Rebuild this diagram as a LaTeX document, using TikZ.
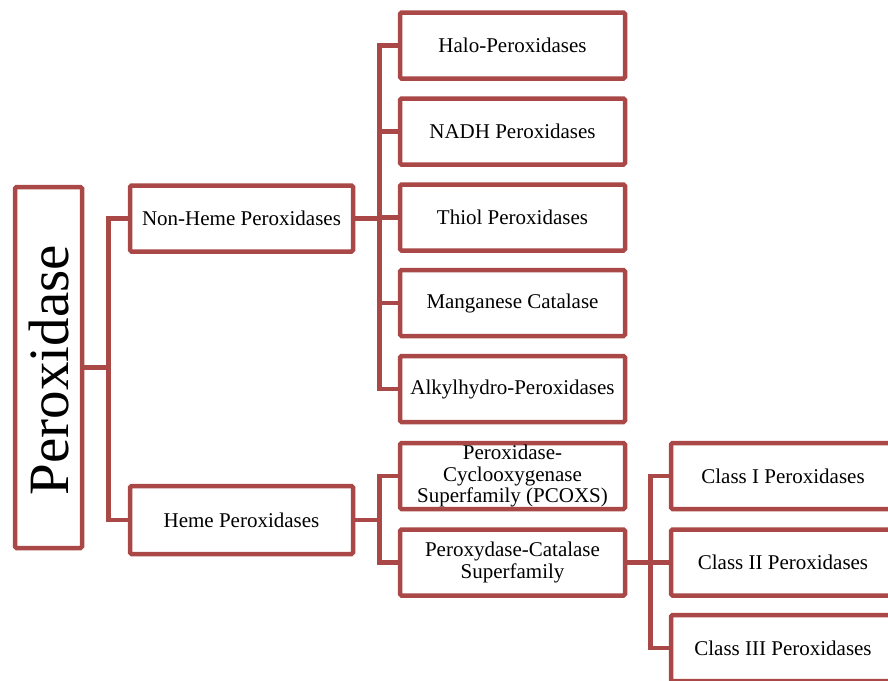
\documentclass[tikz,border=0pt]{standalone}
\usepackage{fontspec}
\setmainfont{Liberation Serif}
\definecolor{boxred}{RGB}{170,72,72}
\begin{document}
\begin{tikzpicture}[x=1pt,y=-1pt,
  box/.style={draw=boxred,line width=4.5pt,rounded corners=1.5pt,fill=white,
    minimum width=225pt,minimum height=66pt,inner sep=0pt,align=center,
    font=\fontsize{21}{21.5}\selectfont},
  conn/.style={draw=boxred,line width=4.5pt}]
\useasboundingbox (0,0) rectangle (888,680);
\clip (0,0) rectangle (888,680);
% root
\node[box,minimum width=67pt,minimum height=361pt] (root) at (48.5,367.5) {};
\node[rotate=90,font=\fontsize{57}{57}\selectfont,inner sep=0pt] (roottxt) at (49,370) {Peroxidase};
% level 1
\node[box,minimum width=223pt] (nh) at (241.5,218.5) {Non-Heme Peroxidases};
\node[box,minimum width=223pt,minimum height=68pt] (hm) at (241.5,520) {Heme Peroxidases};
% level 2 (non-heme)
\node[box] (halo) at (512.5,45.5) {Halo-Peroxidases};
\node[box] (nadh) at (512.5,131.5) {NADH Peroxidases};
\node[box] (thiol) at (512.5,217.5) {Thiol Peroxidases};
\node[box] (mang) at (512.5,303) {Manganese Catalase};
\node[box] (alkyl) at (512.5,389) {Alkylhydro-Peroxidases};
% level 2 (heme)
\node[box] (pcoxs) at (512.5,476) {\raisebox{6pt}{\parbox{225pt}{\centering Peroxidase-\\Cyclooxygenase\\Superfamily (PCOXS)}}};
\node[box] (pcat) at (512.5,562.5) {Peroxydase-Catalase\\Superfamily};
% level 3
\node[box,minimum width=224pt] (c1) at (783,476) {Class I Peroxidases};
\node[box,minimum width=224pt] (c2) at (783,562.5) {Class II Peroxidases};
\node[box,minimum width=224pt] (c3) at (783,648) {Class III Peroxidases};
% connectors
\draw[conn] (root.east) -- ++(24,0) coordinate (b0);
\draw[conn] (b0) |- (nh.west);
\draw[conn] (b0) |- (hm.west);
\draw[conn] (nh.east) -- ++(24,0) coordinate (b1);
\foreach \n in {halo,nadh,thiol,mang,alkyl}{\draw[conn] (b1) |- (\n.west);}
\draw[conn] (hm.east) -- ++(24,0) coordinate (b2);
\draw[conn] (b2) |- (pcoxs.west);
\draw[conn] (b2) |- (pcat.west);
\draw[conn] (pcat.east) -- ++(23,0) coordinate (b3);
\foreach \n in {c1,c2,c3}{\draw[conn] (b3) |- (\n.west);}
\end{tikzpicture}
\end{document}
